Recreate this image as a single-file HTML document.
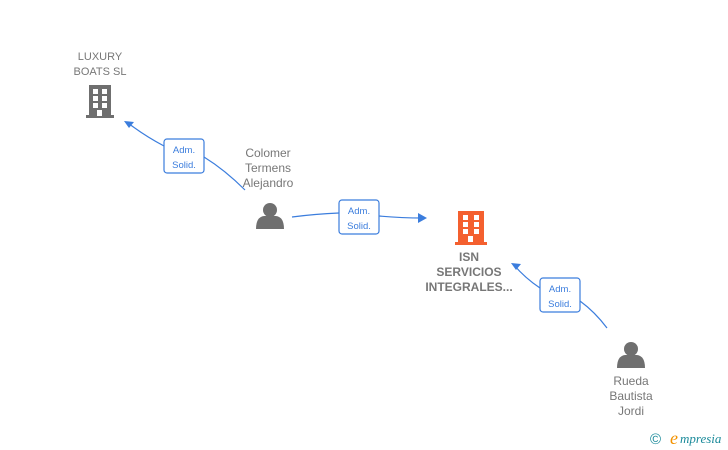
<!DOCTYPE html>
<html><head><style>
html,body{margin:0;padding:0;background:#fff;}
svg{display:block;font-family:"Liberation Sans",Arial,sans-serif;}
</style></head><body>
<svg width="728" height="450" viewBox="0 0 728 450">
<defs>
<g id="person">
<circle cx="14" cy="9" r="7"/>
<path d="M0 28 Q0 16 8 15 L20 15 Q28 16 28 28 Z"/>
</g>
</defs>
<g stroke="#3b7ddd" stroke-width="1.2" fill="none">
<path d="M245 190 Q225 170 204 157"/>
<path d="M164 146 Q145 136 128 123"/>
<path d="M292 217 Q315 214 339 213"/>
<path d="M379 216 Q400 218 424 218"/>
<path d="M607 328 Q595 312 580 301"/>
<path d="M540 288 Q525 278 514 265"/>
</g>
<g fill="#3b7ddd">
<path d="M124 121 L134 122 L129 128 Z"/>
<path d="M427 218 L418 213 L418 223 Z"/>
<path d="M511 263 L521 264 L516 270 Z"/>
</g>
<g fill="#fff" stroke="#3b7ddd" stroke-width="1.2">
<rect x="164" y="139" width="40" height="34" rx="3"/>
<rect x="339" y="200" width="40" height="34" rx="3"/>
<rect x="540" y="278" width="40" height="34" rx="3"/>
</g>
<g fill="#3b7ddd" font-size="9.5" text-anchor="middle">
<text x="184" y="153">Adm.</text><text x="184" y="168">Solid.</text>
<text x="359" y="214">Adm.</text><text x="359" y="229">Solid.</text>
<text x="560" y="292">Adm.</text><text x="560" y="307">Solid.</text>
</g>
<g fill="#6f6f6f" transform="translate(86,85)">
<rect x="3" y="0" width="22" height="31"/><rect x="0" y="30" width="28" height="3"/>
<g fill="#fff"><rect x="7" y="4" width="5" height="5"/><rect x="16" y="4" width="5" height="5"/><rect x="7" y="11" width="5" height="5"/><rect x="16" y="11" width="5" height="5"/><rect x="7" y="18" width="5" height="5"/><rect x="16" y="18" width="5" height="5"/><rect x="11" y="25" width="5" height="6"/></g>
</g>
<g fill="#f4602f" transform="translate(455,211)">
<rect x="3" y="0" width="26" height="32"/><rect x="0" y="31" width="32" height="3"/>
<g fill="#fff"><rect x="8" y="4" width="5" height="5"/><rect x="19" y="4" width="5" height="5"/><rect x="8" y="11" width="5" height="5"/><rect x="19" y="11" width="5" height="5"/><rect x="8" y="18" width="5" height="5"/><rect x="19" y="18" width="5" height="5"/><rect x="13" y="25" width="5" height="6"/></g>
</g>
<g fill="#6f6f6f" transform="translate(256,201)"><use href="#person"/></g>
<g fill="#6f6f6f" transform="translate(617,340)"><use href="#person"/></g>
<g fill="#777" text-anchor="middle">
<text x="100" y="60" font-size="11">LUXURY</text>
<text x="100" y="75" font-size="11">BOATS  SL</text>
<text x="268" y="157" font-size="12">Colomer</text>
<text x="268" y="172" font-size="12">Termens</text>
<text x="268" y="187" font-size="12">Alejandro</text>
<text x="469" y="261" font-size="12" font-weight="bold">ISN</text>
<text x="469" y="276" font-size="12" font-weight="bold">SERVICIOS</text>
<text x="469" y="291" font-size="12" font-weight="bold">INTEGRALES...</text>
<text x="631" y="385" font-size="12">Rueda</text>
<text x="631" y="400" font-size="12">Bautista</text>
<text x="631" y="415" font-size="12">Jordi</text>
</g>
<text x="650" y="444" font-size="15" fill="#1a8a9a">©</text>
<text x="670" y="444" font-size="18" font-style="italic" fill="#f39200" font-family="Liberation Serif,serif">e</text>
<text x="680" y="443" font-size="13" font-style="italic" fill="#1a8a9a" font-family="Liberation Serif,serif">mpresia</text>
</svg>
</body></html>
